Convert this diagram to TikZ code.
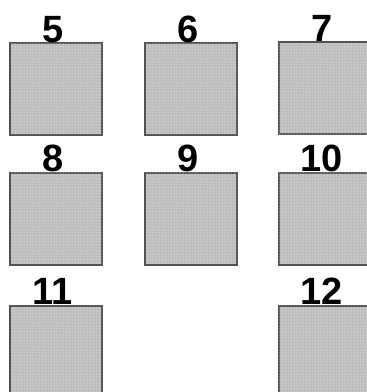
\documentclass[tikz,border=0pt]{standalone}
\usepackage{fontspec}
\setmainfont{Liberation Sans}
\usetikzlibrary{calc, positioning}
\usetikzlibrary{patterns}

\tikzset{
  cell/.style={draw=black!68, line width=2pt, fill=black!26,
    postaction={pattern=dots, pattern color=white},
    minimum size=92pt, inner sep=0pt, outer sep=0pt},
  tag/.style={font=\bfseries\fontsize{38}{38}\selectfont, inner sep=0pt, anchor=base}
}

\begin{document}
\begin{tikzpicture}[x=1pt, y=-1pt]
\useasboundingbox (0,0) rectangle (367,392);
\clip (0,0) rectangle (367,392);

\def\shiftx{-3}
\def\lift{-1}

% box centres, column x and row y
\foreach \nr/\cx/\cy in {5/56/89, 6/191/89, 7/325/88,
                         8/56/218.5, 9/191/218.5, 10/325/218.5,
                         11/56/351.5, 12/325/351.5} {
  \node[cell] (box\nr) at (\cx,\cy) {};
  \node[tag] (lab\nr) at ($(box\nr.north)+(\shiftx,\lift)$) {\nr};
}
\end{tikzpicture}
\end{document}
